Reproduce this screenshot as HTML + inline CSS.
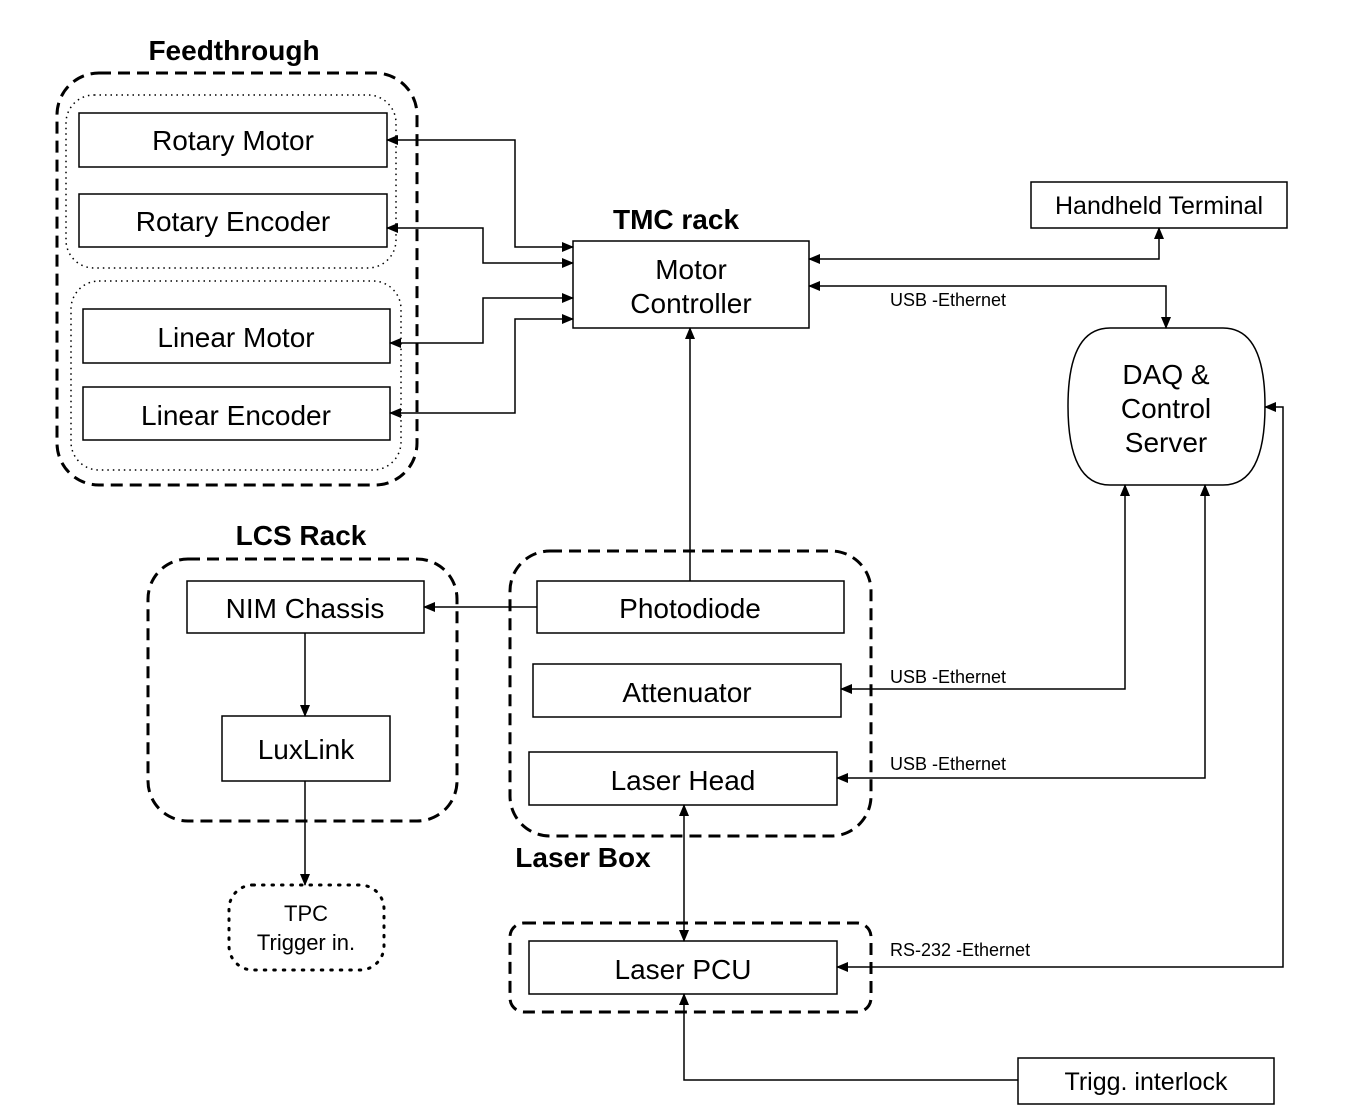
<!DOCTYPE html>
<html><head><meta charset="utf-8"><style>
html,body{margin:0;padding:0;background:#fff;}
svg{display:block;font-family:"Liberation Sans",sans-serif;}
</style></head><body>
<svg width="1355" height="1113" viewBox="0 0 1355 1113" xmlns="http://www.w3.org/2000/svg">
<defs>
<marker id="a" markerWidth="12" markerHeight="10" refX="11" refY="5" orient="auto-start-reverse" markerUnits="userSpaceOnUse">
<path d="M0,0 L12,5 L0,10 z" fill="#000"/></marker>
</defs>
<g fill="none" stroke="#000">
<rect x="57" y="73" width="360" height="412" rx="42" stroke-width="3" stroke-dasharray="12,7"/>
<rect x="66" y="95" width="330" height="173" rx="28" stroke-width="1.5" stroke-dasharray="1.5,4"/>
<rect x="71" y="281" width="330" height="189" rx="28" stroke-width="1.5" stroke-dasharray="1.5,4"/>
<rect x="148" y="559" width="309" height="262" rx="40" stroke-width="3" stroke-dasharray="12,7"/>
<rect x="510" y="551" width="361" height="285" rx="40" stroke-width="3" stroke-dasharray="12,7"/>
<rect x="510" y="923" width="361" height="89" rx="14" stroke-width="3" stroke-dasharray="12,7"/>
<rect x="229" y="885" width="155" height="85" rx="24" stroke-width="3" stroke-dasharray="1.5,8" stroke-linecap="round"/>
<g stroke-width="1.5">
<rect x="79" y="113" width="308" height="54"/>
<rect x="79" y="194" width="308" height="53"/>
<rect x="83" y="309" width="307" height="54"/>
<rect x="83" y="387" width="307" height="53"/>
<rect x="573" y="241" width="236" height="87"/>
<rect x="1031" y="182" width="256" height="46"/>
<path d="M1110,328 L1223,328 Q1265,328 1265,406 Q1265,485 1223,485 L1110,485 Q1068,485 1068,406 Q1068,328 1110,328 Z"/>
<rect x="537" y="581" width="307" height="52"/>
<rect x="533" y="664" width="308" height="53"/>
<rect x="529" y="752" width="308" height="53"/>
<rect x="529" y="941" width="308" height="53"/>
<rect x="187" y="581" width="237" height="52"/>
<rect x="222" y="716" width="168" height="65"/>
<rect x="1018" y="1058" width="256" height="46"/>
</g>
<g stroke-width="1.5">
<path d="M573,247 L515,247 L515,140 L387,140" marker-start="url(#a)" marker-end="url(#a)"/>
<path d="M573,263 L483,263 L483,228 L387,228" marker-start="url(#a)" marker-end="url(#a)"/>
<path d="M573,298 L483,298 L483,343 L390,343" marker-start="url(#a)" marker-end="url(#a)"/>
<path d="M573,319 L515,319 L515,413 L390,413" marker-start="url(#a)" marker-end="url(#a)"/>
<path d="M809,259 L1159,259 L1159,228" marker-start="url(#a)" marker-end="url(#a)"/>
<path d="M809,286 L1166,286 L1166,328" marker-start="url(#a)" marker-end="url(#a)"/>
<path d="M690,581 L690,328" marker-end="url(#a)"/>
<path d="M537,607 L424,607" marker-end="url(#a)"/>
<path d="M305,633 L305,716" marker-end="url(#a)"/>
<path d="M305,781 L305,885" marker-end="url(#a)"/>
<path d="M841,689 L1125,689 L1125,485" marker-start="url(#a)" marker-end="url(#a)"/>
<path d="M837,778 L1205,778 L1205,485" marker-start="url(#a)" marker-end="url(#a)"/>
<path d="M837,967 L1283,967 L1283,407 L1265,407" marker-start="url(#a)" marker-end="url(#a)"/>
<path d="M684,805 L684,941" marker-start="url(#a)" marker-end="url(#a)"/>
<path d="M1018,1080 L684,1080 L684,994" marker-end="url(#a)"/>
</g>
</g>
<g fill="#000" text-anchor="middle" font-size="28">
<text x="233" y="150">Rotary Motor</text>
<text x="233" y="231">Rotary Encoder</text>
<text x="236" y="347">Linear Motor</text>
<text x="236" y="425">Linear Encoder</text>
<text x="691" y="279">Motor</text>
<text x="691" y="313">Controller</text>
<text x="1166" y="384">DAQ &amp;</text>
<text x="1166" y="418">Control</text>
<text x="1166" y="452">Server</text>
<text x="690" y="618">Photodiode</text>
<text x="687" y="702">Attenuator</text>
<text x="683" y="790">Laser Head</text>
<text x="683" y="979">Laser PCU</text>
<text x="305" y="618">NIM Chassis</text>
<text x="306" y="759">LuxLink</text>
<g font-size="25">
<text x="1159" y="214">Handheld Terminal</text>
<text x="1146" y="1090">Trigg. interlock</text>
</g>
<g font-size="22">
<text x="306" y="921">TPC</text>
<text x="306" y="950">Trigger in.</text>
</g>
<g font-weight="bold" font-size="28">
<text x="234" y="60">Feedthrough</text>
<text x="676" y="229">TMC rack</text>
<text x="301" y="545">LCS Rack</text>
<text x="583" y="867">Laser Box</text>
</g>
<g font-size="18" text-anchor="start">
<text x="890" y="306">USB -Ethernet</text>
<text x="890" y="683">USB -Ethernet</text>
<text x="890" y="770">USB -Ethernet</text>
<text x="890" y="956">RS-232 -Ethernet</text>
</g>
</g>
</svg>
</body></html>
